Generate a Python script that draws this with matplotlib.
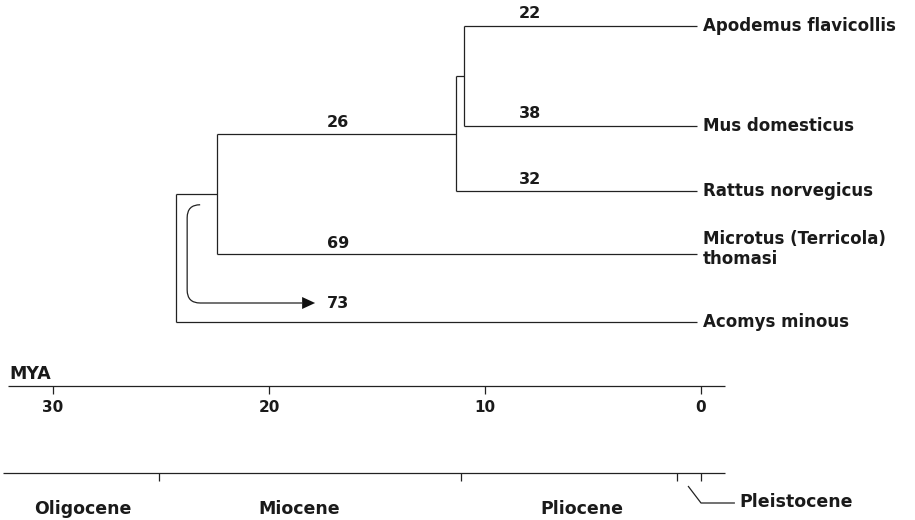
import numpy as np
import matplotlib
matplotlib.use("Agg")
import matplotlib.pyplot as plt
from matplotlib.path import Path
from matplotlib.patches import PathPatch, Polygon

# ==========================================
# DATA
# ==========================================

# tips, top to bottom
taxa = ["Apodemus flavicollis", "Mus domesticus", "Rattus norvegicus",
        "Microtus (Terricola)\nthomasi", "Acomys minous"]
tip_age = 0.2

# divergence times (MYA) of the internal nodes
age_apo_mus = 10.97
age_murinae = 11.34
age_microtus = 22.4
age_root = 24.3

# numbers written on the branches
tip_branch_values = [22, 38, 32, 69, 73]
murinae_stem_value = 26

mya_ticks = [30, 20, 10, 0]
epochs = ["Oligocene", "Miocene", "Pliocene"]
epoch_label_pos = [28.6, 18.6, 5.5]
epoch_bounds = [25.1, 11.1, 1.1, 0]

# ==========================================
# LAYOUT
# ==========================================
PX_PER_MY = 21.6
def px(n):
    return n / PX_PER_MY

tip_y = [26, 126, 191, 254, 322]
line_kw = dict(color="#222222", lw=0.9, solid_capstyle="butt")
txt_kw = dict(color="#1a1a1a", fontweight="bold", family="DejaVu Sans")

fig = plt.figure(figsize=(9.15, 5.2), dpi=100)
ax = fig.add_axes([0, 0, 1, 1])
ax.set_xlim(701 / PX_PER_MY, (701 - 915) / PX_PER_MY)
ax.set_ylim(520, 0)
ax.axis("off")

def hline(x0, x1, y):
    ax.plot([x0, x1], [y, y], **line_kw)

def vline(x, y0, y1):
    ax.plot([x, x], [y0, y1], **line_kw)

# ==========================================
# TREE
# ==========================================
y_am = (tip_y[0] + tip_y[1]) / 2
y_mur = (y_am + tip_y[2]) / 2
y_mic = (y_mur + tip_y[3]) / 2

hline(age_apo_mus, tip_age, tip_y[0])
hline(age_apo_mus, tip_age, tip_y[1])
vline(age_apo_mus, tip_y[0], tip_y[1])
hline(age_murinae, age_apo_mus, y_am)
vline(age_murinae, y_am, tip_y[2])
hline(age_murinae, tip_age, tip_y[2])
hline(age_microtus, age_murinae, y_mur)
vline(age_microtus, y_mur, tip_y[3])
hline(age_microtus, tip_age, tip_y[3])
hline(age_root, age_microtus, y_mic)
vline(age_root, y_mic, tip_y[4])
hline(age_root, tip_age, tip_y[4])

# tip names
for i, name in enumerate(taxa):
    y = tip_y[i] - 5 if "\n" in name else tip_y[i]
    ax.text(tip_age - px(6), y, name, ha="left", va="center", fontsize=12,
            linespacing=1.15, **txt_kw)

# branch numbers
near_x = 7.9
far_x = 16.8
for i in range(3):
    ax.text(near_x, tip_y[i] - 12, str(tip_branch_values[i]), ha="center",
            va="center", fontsize=11.5, **txt_kw)
ax.text(far_x, y_mur - 11, str(murinae_stem_value), ha="center", va="center",
        fontsize=11.5, **txt_kw)
ax.text(far_x, tip_y[3] - 11, str(tip_branch_values[3]), ha="center",
        va="center", fontsize=11.5, **txt_kw)

# curved arrow to the Acomys value
ax_x0 = age_microtus + px(17)
ax_xl = age_microtus + px(30)
ay0 = y_mic + 11
ay1 = tip_y[4] - 19
r = 13
head_tip = far_x + px(23)
head_base = head_tip + px(13)
verts = [(ax_x0, ay0), (ax_xl, ay0), (ax_xl, ay0 + r),
         (ax_xl, ay1 - r), (ax_xl, ay1), (ax_xl - px(r), ay1),
         (head_base, ay1)]
codes = [Path.MOVETO, Path.CURVE3, Path.CURVE3, Path.LINETO,
         Path.CURVE3, Path.CURVE3, Path.LINETO]
ax.add_patch(PathPatch(Path(verts, codes), fill=False, edgecolor="#222222", lw=0.9))
ax.add_patch(Polygon([(head_base, ay1 - 6), (head_tip, ay1), (head_base, ay1 + 6)],
                     closed=True, facecolor="#111111", edgecolor="none"))
ax.text(far_x, ay1, str(tip_branch_values[4]), ha="center", va="center",
        fontsize=11.5, **txt_kw)

# ==========================================
# TIME AXES
# ==========================================
y_axis = 386
hline(32.1, -1.1, y_axis)
for t in mya_ticks:
    vline(t, y_axis, y_axis + 8)
    ax.text(t, y_axis + 22, str(t), ha="center", va="center", fontsize=11, **txt_kw)
ax.text(32.0, y_axis - 12, "MYA", ha="left", va="center", fontsize=12.5, **txt_kw)

y_ep = 473
hline(32.3, -1.1, y_ep)
for t in epoch_bounds:
    vline(t, y_ep, y_ep + 8)
for name, t in zip(epochs, epoch_label_pos):
    ax.text(t, y_ep + 36, name, ha="center", va="center", fontsize=12.5, **txt_kw)

# Pleistocene leader
ax.plot([0.6, 0.0, -1.57], [y_ep + 13, y_ep + 30, y_ep + 30], **line_kw)
ax.text(-1.76, y_ep + 29, "Pleistocene", ha="left", va="center", fontsize=12.5, **txt_kw)

fig.savefig("out.png", dpi=100, facecolor="white")
